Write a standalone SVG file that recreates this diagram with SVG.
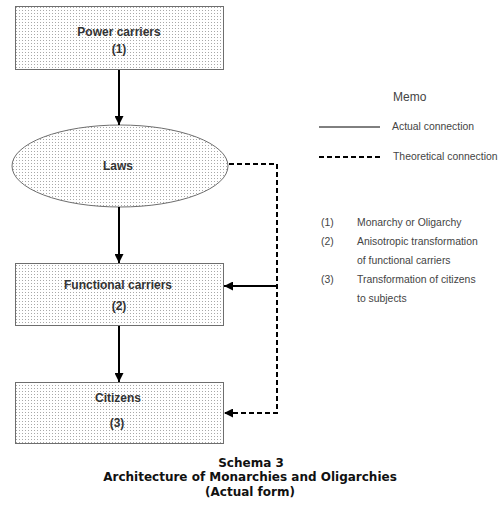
<svg xmlns="http://www.w3.org/2000/svg" width="498" height="506" viewBox="0 0 498 506">
  <defs>
    <!-- fine dot screen used as node fill -->
    <pattern id="dots" width="3" height="3" patternUnits="userSpaceOnUse">
      <rect width="3" height="3" fill="#ffffff"/>
      <rect x="1" y="1" width="1" height="1" fill="#a8a8a8"/>
    </pattern>
    <marker id="head" viewBox="0 0 10 10" refX="10" refY="5" markerWidth="9" markerHeight="9" markerUnits="userSpaceOnUse" orient="auto">
      <path d="M0,0 L10,5 L0,10 Z" fill="#000"/>
    </marker>
    <style>
      .node { fill: url(#dots); stroke: #6e6e6e; stroke-width: 1; }
      .label { font-family: "Liberation Sans", Arial, sans-serif; font-weight: bold; font-size: 12px; fill: #333; text-anchor: middle; }
      .solid { fill: none; stroke: #000; stroke-width: 2; }
      .dashed { fill: none; stroke: #000; stroke-width: 2; stroke-dasharray: 5 3; }
      .memo { font-family: "Liberation Sans", Arial, sans-serif; font-size: 10.4px; fill: #444; }
      .title { font-family: "DejaVu Sans", Verdana, sans-serif; font-weight: bold; font-size: 12px; fill: #111; text-anchor: middle; }
    </style>
  </defs>

  <rect width="498" height="506" fill="#ffffff"/>

  <g id="power-carriers">
    <rect class="node" x="15.5" y="6.5" width="208" height="63"/>
    <text class="label" x="119" y="36">Power carriers</text>
    <text class="label" x="119" y="53">(1)</text>
  </g>

  <g id="laws">
    <ellipse class="node" cx="120" cy="166" rx="108" ry="41"/>
    <text class="label" x="118" y="170">Laws</text>
  </g>

  <g id="functional-carriers">
    <rect class="node" x="15.5" y="263.5" width="208" height="62"/>
    <text class="label" x="118" y="289">Functional carriers</text>
    <text class="label" x="119" y="310">(2)</text>
  </g>

  <g id="citizens">
    <rect class="node" x="15.5" y="382.5" width="208" height="61"/>
    <text class="label" x="118" y="402">Citizens</text>
    <text class="label" x="117" y="427">(3)</text>
  </g>

  <g id="connectors">
    <path class="solid" d="M119,70 V125" marker-end="url(#head)"/>
    <path class="solid" d="M119,207 V263" marker-end="url(#head)"/>
    <path class="solid" d="M119,326 V382" marker-end="url(#head)"/>
    <path class="dashed" d="M229,164 H277 V413 H224" marker-end="url(#head)"/>
    <path class="solid" d="M277,286 H224" marker-end="url(#head)"/>
  </g>

  <g id="memo">
    <text class="memo" x="393" y="101" style="font-size:12px">Memo</text>
    <line x1="319" y1="127" x2="380" y2="127" stroke="#000" stroke-width="1"/>
    <text class="memo" x="392" y="130">Actual connection</text>
    <line x1="319" y1="157" x2="380" y2="157" stroke="#000" stroke-width="2" stroke-dasharray="5 3"/>
    <text class="memo" x="393" y="160">Theoretical connection</text>

    <text class="memo" x="321" y="226">(1)</text>
    <text class="memo" x="357" y="226">Monarchy or Oligarchy</text>
    <text class="memo" x="321" y="245">(2)</text>
    <text class="memo" x="357" y="245">Anisotropic transformation</text>
    <text class="memo" x="357" y="264">of functional carriers</text>
    <text class="memo" x="321" y="283">(3)</text>
    <text class="memo" x="357" y="283">Transformation of citizens</text>
    <text class="memo" x="357" y="302">to subjects</text>
  </g>

  <g id="caption">
    <text class="title" x="251" y="467">Schema 3</text>
    <text class="title" x="250" y="481">Architecture of Monarchies and Oligarchies</text>
    <text class="title" x="250" y="496">(Actual form)</text>
  </g>
</svg>
